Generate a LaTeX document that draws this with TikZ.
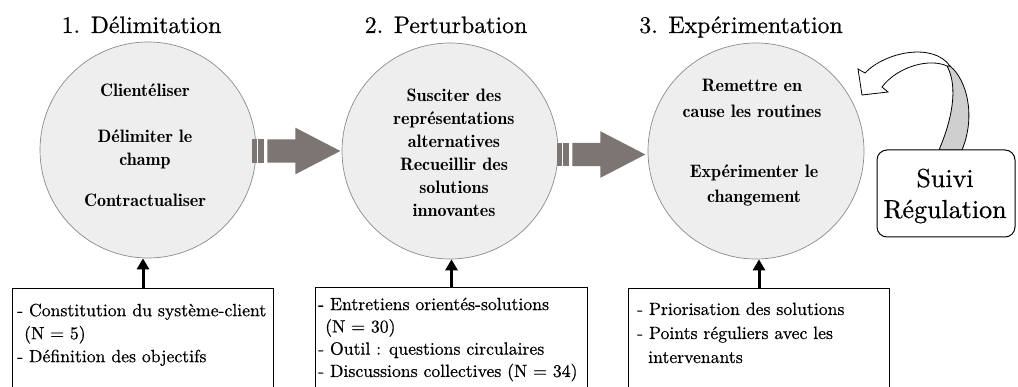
\documentclass[tikz,border=0pt]{standalone}
\usepackage{fontspec}
\newfontfamily\demifont{lmromandemi10-regular.otf}
\newfontfamily\txtfont{lmroman10-regular.otf}[FakeBold=0.6]
\usetikzlibrary{arrows.meta}
\definecolor{circfill}{HTML}{EEEEEE}
\definecolor{circline}{HTML}{8C8C8C}
\definecolor{bigarrow}{HTML}{7D7572}
\definecolor{bandgray}{HTML}{CFCFCF}
\tikzset{
  stage/.style={circle, draw=circline, fill=circfill, line width=0.7pt, minimum size=216pt, inner sep=0pt},
  circtext/.style={font=\demifont\fontsize{18}{23}\selectfont, align=center, inner sep=0pt},
  stagetitle/.style={font=\txtfont\fontsize{23.8}{28}\selectfont, inner sep=0pt, anchor=base},
  infobox/.style={draw=black, line width=1pt, anchor=north west, inner sep=0pt, minimum height=120pt},
  infotext/.style={font=\txtfont\fontsize{17.7}{23}\selectfont, align=left, anchor=north west, inner sep=0pt},
  uparrow/.style={line width=3pt, -{Triangle[length=11pt,width=12pt]}},
  grayarrow/.pic={
    \fill[bigarrow] (0,-11.7) rectangle (4.4,11.7);
    \fill[bigarrow] (6,-11.7) rectangle (11.7,11.7);
    \fill[bigarrow] (15,-11.7) -- (43,-11.7) -- (43,-23.3) -- (88,0) -- (43,23.3) -- (43,11.7) -- (15,11.7) -- cycle;
  },
}
\begin{document}
\begin{tikzpicture}[x=1pt,y=-1pt]
\useasboundingbox (0,0) rectangle (1018,387);
\clip (0,0) rectangle (1018,387);
\fill[white] (0,0) rectangle (1018,387);

% titles
\node[stagetitle] (h1) at (141.5,33) {1. Délimitation};
\node[stagetitle] (h2) at (446,33) {2. Perturbation};
\node[stagetitle] (h3) at (741,33) {3. Expérimentation};

% circles
\node[stage] (c1) at (148,150) {};
\node[stage] (c2) at (450,151) {};
\node[stage] (c3) at (756,151) {};

\node[circtext] (s1a) at (145,90) {Clientéliser};
\node[circtext] (s1b) at (145,149.5) {Délimiter le\\champ};
\node[circtext] (s1c) at (145,200) {Contractualiser};
\node[circtext] (s2) at (454,152.5) {Susciter des\\représentations\\alternatives\\Recueillir des\\solutions\\innovantes};
\node[circtext, font=\demifont\fontsize{18}{26}\selectfont] (s3a) at (752,98.5) {Remettre en\\cause les routines};
\node[circtext, font=\demifont\fontsize{18}{25}\selectfont] (s3b) at (754,185) {Expérimenter le\\changement};

% gray arrows between stages
\pic at ([xshift=-4pt,yshift=-1pt]c1.east) {grayarrow};
\pic at ([xshift=-1pt,yshift=-3.5pt]c2.east) {grayarrow};

% bottom boxes
\node[infobox, minimum width=261pt] (b1) at (12,288) {};
\node[infobox, minimum width=272pt] (b2) at (315,287) {};
\node[infobox, minimum width=261pt] (b3) at (628,288) {};

\node[infotext] (t1) at (17,303.5) {- Constitution du système-client\\\hspace*{7pt}(N = 5)\\- Définition des objectifs};
\node[infotext, font=\txtfont\fontsize{17.7}{22.3}\selectfont] (t2) at (318,297.5) {- Entretiens orientés-solutions\\\hspace*{7pt}(N = 30)\\- Outil : questions circulaires\\- Discussions collectives (N = 34)};
\node[infotext, font=\txtfont\fontsize{17.7}{24}\selectfont] (t3) at (637,302.5) {- Priorisation des solutions\\- Points réguliers avec les\\\hspace*{11pt}intervenants};

\draw[uparrow] (b1.north) -- (b1.north |- c1.south);
\draw[uparrow] (b2.north) -- (b2.north |- c2.south);
\draw[uparrow] (b3.north) -- (b3.north |- c3.south);

% Suivi / Regulation curved arrow
\filldraw[fill=bandgray, draw=black, line width=0.8pt]
  (939,150) .. controls (951,122) and (959,88) .. (947,66)
  -- (950,66) .. controls (967,80) and (976,116) .. (962,150) -- cycle;
\filldraw[fill=white, draw=black, line width=0.8pt]
  (865,73) .. controls (885,52) and (933,42) .. (950,66)
  -- (947,66) .. controls (930,58) and (898,66) .. (882,87)
  -- (888,92) -- (862,95) -- (858,69) -- cycle;

\node[draw=black, line width=1pt, rounded corners=10pt, fill=white, minimum width=138pt, minimum height=87pt, inner sep=0pt] (sr) at (946,193.5) {};
\node[font=\txtfont\fontsize{26}{31}\selectfont, align=center, inner sep=0pt] (srt) at (945,196) {Suivi\\Régulation};
\end{tikzpicture}
\end{document}
